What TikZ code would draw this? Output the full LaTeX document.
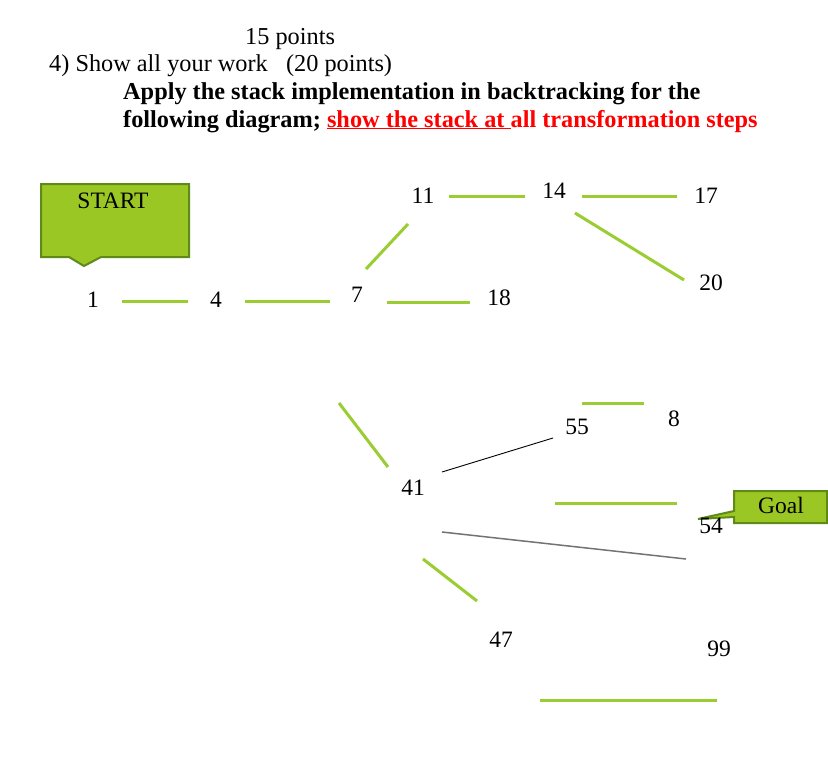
\documentclass[tikz,border=0pt]{standalone}
\usepackage{fontspec}
\setmainfont{Liberation Serif}
\definecolor{lgreen}{HTML}{9ACD32}
\definecolor{cfill}{HTML}{9BC724}
\definecolor{cborder}{HTML}{5F8A18}
\definecolor{redtxt}{HTML}{FF0000}
\begin{document}
\begin{tikzpicture}[x=1pt,y=-1pt,
  every node/.style={font=\fontsize{23.5}{27}\selectfont, inner sep=0pt},
  num/.style={anchor=center},
  hdr/.style={anchor=base west, font=\fontsize{24.3}{28}\selectfont},
  hdrb/.style={anchor=base west, font=\fontsize{24.3}{28}\selectfont\bfseries},
  gline/.style={draw=lgreen, line width=3pt},
  thinline/.style={draw=black, line width=0.9pt},
  grayline/.style={draw=black!55, line width=1.5pt},
  callout/.style={fill=cfill, draw=cborder, line width=2pt, line join=miter}]
\useasboundingbox (0,0) rectangle (828,758);
\fill[white] (0,0) rectangle (828,758);

% header
\node[hdr] (h1) at (245,44) {15 points};
\node[hdr] (h2) at (49,71) {4) Show all your work \ \ (20 points)};
\node[hdrb] (h3) at (123,99) {Apply the stack implementation in backtracking for the};
\node[hdrb] (h4) at (123,127) {following diagram; \textcolor{redtxt}{\underline{show the stack at\ }all transformation steps}};

% callouts
\path[callout] (41,184) -- (189,184) -- (189,257) -- (101,257) -- (84,266) -- (69,257) -- (41,257) -- cycle;
\node (start) at (113,201) {START};
\path[callout] (734,491) -- (827,491) -- (827,523) -- (734,523) -- (734,517) -- (698,519) -- (734,511) -- cycle;
\node (goal) at (781,505) {Goal};

% numbers
\node[num] (n1) at (93,300) {1};
\node[num] (n4) at (216,300) {4};
\node[num] (n7) at (357,295) {7};
\node[num] (n18) at (499,298) {18};
\node[num] (n11) at (423,196) {11};
\node[num] (n14) at (554,191) {14};
\node[num] (n17) at (706,196) {17};
\node[num] (n20) at (711,283) {20};
\node[num] (n55) at (577,427) {55};
\node[num] (n8) at (674,419) {8};
\node[num] (n41) at (413,488) {41};
\node[num] (n54) at (711,526) {54};
\node[num] (n47) at (501,640) {47};
\node[num] (n99) at (719,649) {99};

% segment end points
\coordinate (a1) at (122,301); \coordinate (a2) at (188,301);
\coordinate (b1) at (245,301); \coordinate (b2) at (330,301);
\coordinate (c1) at (387,302); \coordinate (c2) at (470,302);
\coordinate (d1) at (366,269); \coordinate (d2) at (408,224);
\coordinate (e1) at (449,196); \coordinate (e2) at (525,196);
\coordinate (f1) at (582,196); \coordinate (f2) at (677,196);
\coordinate (g1) at (575,213); \coordinate (g2) at (684,280);
\coordinate (h1c) at (339,403); \coordinate (h2c) at (388,467);
\coordinate (i1) at (582,403); \coordinate (i2) at (644,403);
\coordinate (j1) at (442,472); \coordinate (j2) at (553,438);
\coordinate (k1) at (442,532); \coordinate (k2) at (686,559);
\coordinate (l1) at (555,503); \coordinate (l2) at (677,503);
\coordinate (m1) at (423,559); \coordinate (m2) at (477,601);
\coordinate (o1) at (540,700); \coordinate (o2) at (717,700);

\draw[gline] (a1) -- (a2);
\draw[gline] (b1) -- (b2);
\draw[gline] (c1) -- (c2);
\draw[gline] (d1) -- (d2);
\draw[gline] (e1) -- (e2);
\draw[gline] (f1) -- (f2);
\draw[gline] (g1) -- (g2);
\draw[gline] (h1c) -- (h2c);
\draw[gline] (i1) -- (i2);
\draw[thinline] (j1) -- (j2);
\draw[grayline] (k1) -- (k2);
\draw[gline] (l1) -- (l2);
\draw[gline] (m1) -- (m2);
\draw[gline] (o1) -- (o2);
\end{tikzpicture}
\end{document}
